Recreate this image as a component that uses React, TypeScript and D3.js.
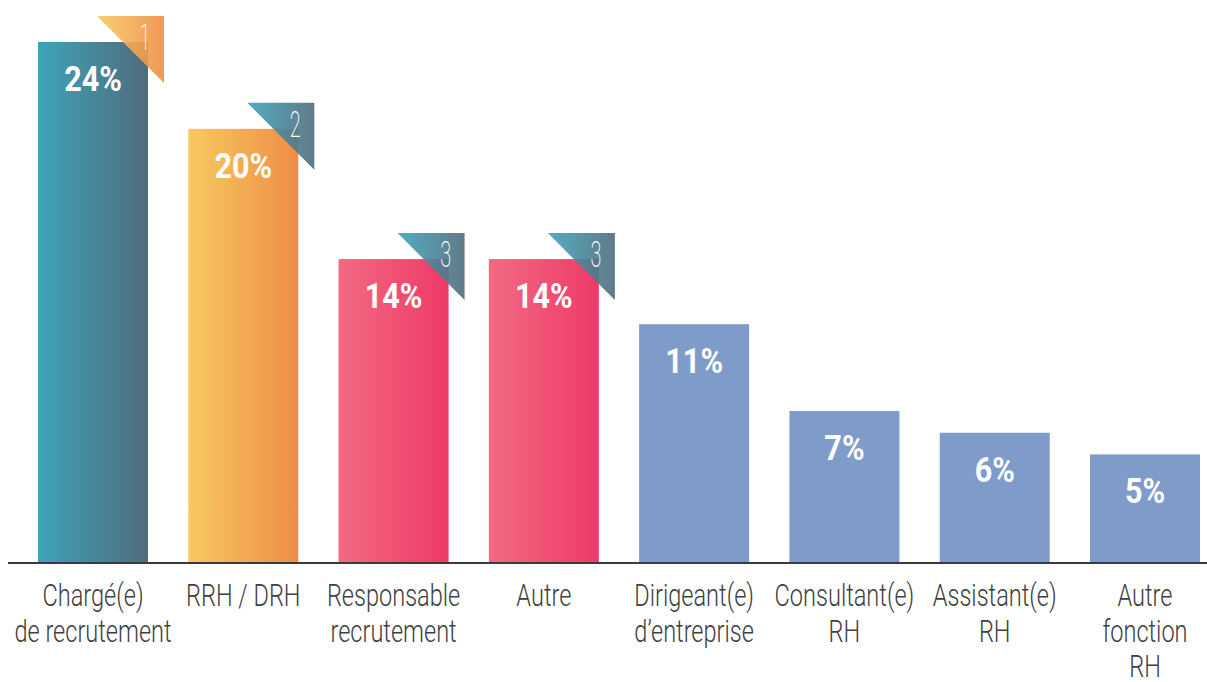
import React from "react";
import * as d3 from "d3";

const categories: string[][] = [
  ["Chargé(e)", "de recrutement"],
  ["RRH / DRH"],
  ["Responsable", "recrutement"],
  ["Autre"],
  ["Dirigeant(e)", "d’entreprise"],
  ["Consultant(e)", "RH"],
  ["Assistant(e)", "RH"],
  ["Autre", "fonction", "RH"],
];
const values: number[] = [24, 20, 14, 14, 11, 7, 6, 5];
const valueLabels: string[] = ["24%", "20%", "14%", "14%", "11%", "7%", "6%", "5%"];
const ranks: (number | null)[] = [1, 2, 3, 3, null, null, null, null];
const barFills: string[] = ["teal", "orange", "pink", "pink", "blue", "blue", "blue", "blue"];
const rankFills: Record<number, string> = { 1: "orange", 2: "teal", 3: "teal" };

const gradients: Record<string, [string, string]> = {
  teal: ["#3fa3b9", "#4f6c7c"],
  orange: ["#f7c961", "#ef8d46"],
  pink: ["#f26a81", "#ee3a68"],
  blue: ["#7f9bc9", "#7f9bc9"],
};

const W = 1207;
const H = 682;
const baseY = 563;
const topY = 42;
const left = 38;
const right = 1200;

export default function App() {
  const x = d3
    .scaleBand<number>()
    .domain(values.map((_, i) => i))
    .range([left, right])
    .paddingInner(0.268)
    .paddingOuter(0);
  const y = d3.scaleLinear().domain([0, 24]).range([baseY, topY]);
  const bw = x.bandwidth();
  const tri = 67;

  return (
    <svg
      width={W}
      height={H}
      style={{ position: "absolute", left: 0, top: 0, display: "block" }}
      fontFamily="Roboto, 'Open Sans', sans-serif"
    >
      <defs>
        {Object.entries(gradients).map(([k, [c1, c2]]) => (
          <linearGradient key={k} id={`g-${k}`} x1="0" x2="1" y1="0" y2="0">
            <stop offset="0" stopColor={c1} />
            <stop offset="1" stopColor={c2} />
          </linearGradient>
        ))}
      </defs>
      <rect width={W} height={H} fill="#ffffff" />
      {values.map((v, i) => {
        const bx = x(i)!;
        const cx = bx + bw / 2;
        return (
          <g key={i}>
            <rect x={bx} y={y(v)} width={bw} height={baseY - y(v)} fill={`url(#g-${barFills[i]})`} />
            <text
              transform={`translate(${cx},${y(v) + 49}) scale(0.85,1)`}
              textAnchor="middle"
              fontSize={36}
              fontWeight={700}
              fill="#ffffff"
            >
              {valueLabels[i]}
            </text>
          </g>
        );
      })}
      {values.map((v, i) => {
        const r = ranks[i];
        if (r == null) return null;
        const rx = x(i)! + bw + 16;
        const ty = y(v) - 26;
        const path = d3.path();
        path.moveTo(rx - tri, ty);
        path.lineTo(rx, ty);
        path.lineTo(rx, ty + tri);
        path.closePath();
        return (
          <g key={`r${i}`}>
            <path d={path.toString()} fill={`url(#g-${rankFills[r]})`} opacity={0.9} />
            <text
              transform={`translate(${rx - 19},${ty + 34}) scale(0.55,1)`}
              textAnchor="middle"
              fontSize={36}
              fontWeight={200}
              fill="#ffffff"
            >
              {r}
            </text>
          </g>
        );
      })}
      <line x1={8} x2={W} y1={baseY} y2={baseY} stroke="#3a3a3a" strokeWidth={2} />
      {categories.map((lines, i) => {
        const cx = x(i)! + bw / 2;
        return (
          <g key={`l${i}`}>
            {lines.map((t, j) => (
              <text
                key={j}
                transform={`translate(${cx},${606 + j * 35.5}) scale(0.76,1)`}
                textAnchor="middle"
                fontSize={31}
                fontWeight={300}
                fill="#404040"
              >
                {t}
              </text>
            ))}
          </g>
        );
      })}
    </svg>
  );
}
